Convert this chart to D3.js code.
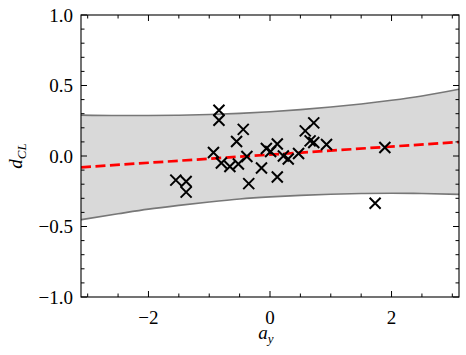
<!DOCTYPE html>
<html>
<head>
<meta charset="utf-8">
<script src="https://cdn.jsdelivr.net/npm/d3@7"></script>
<style>
  html, body { margin: 0; padding: 0; background: #fff; }
  svg { display: block; }
</style>
</head>
<body>
<script>
// ---- data ----
const pointsX = [-1.55, -1.38, -1.38, -0.93, -0.84, -0.84, -0.80, -0.66, -0.55, -0.52,
                 -0.44, -0.38, -0.35, -0.14, -0.06, 0.01, 0.12, 0.12, 0.22, 0.30,
                 0.47, 0.58, 0.66, 0.72, 0.72, 0.93, 1.89, 1.73];
const pointsY = [-0.171, -0.181, -0.256, 0.025, 0.324, 0.253, -0.050, -0.075, 0.103, -0.057,
                 0.189, -0.004, -0.196, -0.085, 0.053, 0.032, 0.085, -0.149, 0.000, -0.021,
                 0.018, 0.178, 0.107, 0.096, 0.235, 0.082, 0.060, -0.335];

const bandX     = [-3.11, -2.5, -2.0, -1.5, -1.0, -0.5, 0.0, 0.5, 1.0, 1.5, 2.0, 2.5, 3.11];
const bandUpper = [0.290, 0.287, 0.287, 0.289, 0.294, 0.302, 0.314, 0.329, 0.347, 0.369, 0.395, 0.426, 0.474];
const bandLower = [-0.452, -0.410, -0.377, -0.350, -0.326, -0.305, -0.290, -0.279, -0.271, -0.266, -0.264, -0.266, -0.272];

const fitX = [-3.11, 3.11];
const fitY = [-0.080, 0.099];

const xMajorTicks = [-2, 0, 2];
const xMinorTicks = [-3, -2.5, -1.5, -1, -0.5, 0.5, 1, 1.5, 2.5, 3];
const yMajorTicks = [-1.0, -0.5, 0.0, 0.5, 1.0];
const yMinorTicks = [-0.9, -0.8, -0.7, -0.6, -0.4, -0.3, -0.2, -0.1, 0.1, 0.2, 0.3, 0.4, 0.6, 0.7, 0.8, 0.9];
const xDomain = [-3.11, 3.11];
const yDomain = [-1, 1];

// ---- layout ----
const W = 466, H = 355;
const L = 81, R = 459, T = 15, B = 297;
const FONT = "'Liberation Serif', 'DejaVu Serif', serif";

const svg = d3.select("body").append("svg").attr("width", W).attr("height", H);

const x = d3.scaleLinear().domain(xDomain).range([L, R]);
const y = d3.scaleLinear().domain(yDomain).range([B, T]);

svg.append("clipPath").attr("id", "clip")
  .append("rect").attr("x", L).attr("y", T).attr("width", R - L).attr("height", B - T);

const plot = svg.append("g").attr("clip-path", "url(#clip)");

const band = bandX.map((v, i) => ({x: v, u: bandUpper[i], l: bandLower[i]}));

plot.append("path")
  .datum(band)
  .attr("d", d3.area().x(d => x(d.x)).y0(d => y(d.l)).y1(d => y(d.u)).curve(d3.curveMonotoneX))
  .attr("fill", "#d9d9d9");

plot.append("path")
  .datum(band)
  .attr("d", d3.line().x(d => x(d.x)).y(d => y(d.u)).curve(d3.curveMonotoneX))
  .attr("fill", "none").attr("stroke", "#777").attr("stroke-width", 1.6);
plot.append("path")
  .datum(band)
  .attr("d", d3.line().x(d => x(d.x)).y(d => y(d.l)).curve(d3.curveMonotoneX))
  .attr("fill", "none").attr("stroke", "#777").attr("stroke-width", 1.6);

plot.append("path")
  .datum(fitX.map((v, i) => [v, fitY[i]]))
  .attr("d", d3.line().x(d => x(d[0])).y(d => y(d[1])))
  .attr("fill", "none").attr("stroke", "#ff0000").attr("stroke-width", 2.7)
  .attr("stroke-dasharray", "10,4.5");

const s = 5.5;
const pts = pointsX.map((v, i) => [v, pointsY[i]]);
plot.selectAll("path.mk").data(pts).enter().append("path")
  .attr("class", "mk")
  .attr("d", d => {
    const cx = x(d[0]), cy = y(d[1]);
    return `M${cx - s},${cy - s}L${cx + s},${cy + s}M${cx - s},${cy + s}L${cx + s},${cy - s}`;
  })
  .attr("stroke", "#000").attr("stroke-width", 2).attr("fill", "none");

// ---- axes with inward ticks on all sides ----
const major = 6, minor = 3.5;
const tk = svg.append("g").attr("stroke", "#000").attr("stroke-width", 1);
xMajorTicks.forEach(v => {
  tk.append("line").attr("x1", x(v)).attr("x2", x(v)).attr("y1", B).attr("y2", B - major);
  tk.append("line").attr("x1", x(v)).attr("x2", x(v)).attr("y1", T).attr("y2", T + major);
});
xMinorTicks.forEach(v => {
  tk.append("line").attr("x1", x(v)).attr("x2", x(v)).attr("y1", B).attr("y2", B - minor);
  tk.append("line").attr("x1", x(v)).attr("x2", x(v)).attr("y1", T).attr("y2", T + minor);
});
yMajorTicks.forEach(v => {
  tk.append("line").attr("y1", y(v)).attr("y2", y(v)).attr("x1", L).attr("x2", L + major);
  tk.append("line").attr("y1", y(v)).attr("y2", y(v)).attr("x1", R).attr("x2", R - major);
});
yMinorTicks.forEach(v => {
  tk.append("line").attr("y1", y(v)).attr("y2", y(v)).attr("x1", L).attr("x2", L + minor);
  tk.append("line").attr("y1", y(v)).attr("y2", y(v)).attr("x1", R).attr("x2", R - minor);
});

svg.append("rect").attr("x", L).attr("y", T).attr("width", R - L).attr("height", B - T)
  .attr("fill", "none").attr("stroke", "#000").attr("stroke-width", 1.1);

const fmtY = v => (v < 0 ? "\u2212" : "") + Math.abs(v).toFixed(1);
const fmtX = v => (v < 0 ? "\u2212" : "") + Math.abs(v);

svg.append("g").selectAll("text").data(yMajorTicks).enter().append("text")
  .attr("font-family", FONT)
  .attr("x", L - 8).attr("y", d => y(d)).attr("dy", "0.35em")
  .attr("text-anchor", "end").attr("font-size", 19).attr("fill", "#000").text(fmtY);

svg.append("g").selectAll("text").data(xMajorTicks).enter().append("text")
  .attr("font-family", FONT)
  .attr("x", d => x(d)).attr("y", B + 20).attr("dy", "0.35em")
  .attr("text-anchor", "middle").attr("font-size", 19).attr("fill", "#000").text(fmtX);

// axis labels
const xl = svg.append("text").attr("font-family", FONT)
  .attr("x", (L + R) / 2 - 4).attr("y", 339)
  .attr("text-anchor", "middle").attr("font-size", 19).attr("fill", "#000");
xl.append("tspan").attr("font-style", "italic").text("a");
xl.append("tspan").attr("font-style", "italic").attr("font-size", 13).attr("dy", 4).text("y");

const yl = svg.append("text").attr("font-family", FONT)
  .attr("transform", `translate(22,${(T + B) / 2}) rotate(-90)`)
  .attr("text-anchor", "middle").attr("font-size", 19).attr("fill", "#000");
yl.append("tspan").attr("font-style", "italic").text("d");
yl.append("tspan").attr("font-style", "italic").attr("font-size", 13).attr("dy", 4).text("CL");
</script>
</body>
</html>
